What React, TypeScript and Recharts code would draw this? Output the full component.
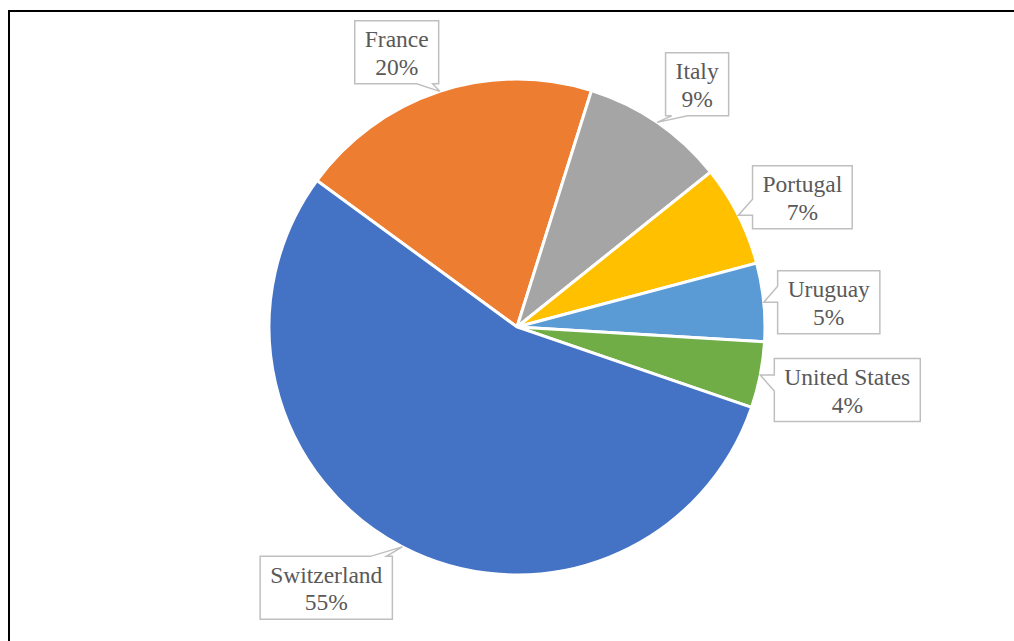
import React from 'react';
import { PieChart, Pie, Cell } from 'recharts';

const countries = ['France', 'Italy', 'Portugal', 'Uruguay', 'United States', 'Switzerland'];
const shares = [19.8, 9.4, 6.6, 5.1, 4.3, 54.8];
const colors = ['#ED7D31', '#A5A5A5', '#FFC000', '#5B9BD5', '#70AD47', '#4472C4'];

// where each callout box sits relative to the point on the slice edge
const calloutOffsets = [[-43, -39], [40, -38], [64, -18], [65, 0], [87, 15], [-76, 41]];

const chartData = countries.map((name, i) => ({ name, value: shares[i] }));

const RADIAN = Math.PI / 180;
const FONT_SIZE = 23.5;
const FAMILY = "'Liberation Serif', 'Times New Roman', 'DejaVu Serif', serif";
const FONT = `${FONT_SIZE}px ${FAMILY}`;

let ctx: CanvasRenderingContext2D | null = null;
const textWidth = (s: string) => {
  if (!ctx) ctx = document.createElement('canvas').getContext('2d');
  if (!ctx) return s.length * FONT_SIZE * 0.5;
  ctx.font = FONT;
  return ctx.measureText(s).width;
};

const clamp = (v: number, lo: number, hi: number) => Math.max(lo, Math.min(hi, v));

const renderCallout = (props: any) => {
  const { cx, cy, midAngle, outerRadius, percent, name, index } = props;
  const tx = cx + outerRadius * Math.cos(-midAngle * RADIAN);
  const ty = cy + outerRadius * Math.sin(-midAngle * RADIAN);
  const [ox, oy] = calloutOffsets[index];
  const pct = `${Math.round(percent * 100)}%`;
  const w = Math.max(textWidth(name), textWidth(pct)) + 20;
  const h = 63;
  const bx = tx + ox;
  const by = ty + oy;
  const x0 = bx - w / 2;
  const y0 = by - h / 2;
  const x1 = x0 + w;
  const y1 = y0 + h;

  // base of the pointer on the side facing the slice
  const base = (t: number, lo: number, hi: number, mid: number) => {
    const e = clamp(t, lo + 6, hi - 6);
    return t >= mid ? [Math.max(lo + 2, e - 16), e] : [e, Math.min(hi - 2, e + 16)];
  };

  let d = '';
  if (ty < y0) {
    const [a, b] = base(tx, x0, x1, bx);
    d = `M${x0},${y0} L${a},${y0} L${tx},${ty} L${b},${y0} L${x1},${y0} L${x1},${y1} L${x0},${y1} Z`;
  } else if (ty > y1) {
    const [a, b] = base(tx, x0, x1, bx);
    d = `M${x0},${y0} L${x1},${y0} L${x1},${y1} L${b},${y1} L${tx},${ty} L${a},${y1} L${x0},${y1} Z`;
  } else if (tx > x1) {
    const [a, b] = base(ty, y0, y1, by);
    d = `M${x0},${y0} L${x1},${y0} L${x1},${a} L${tx},${ty} L${x1},${b} L${x1},${y1} L${x0},${y1} Z`;
  } else {
    const [a, b] = base(ty, y0, y1, by);
    d = `M${x0},${y0} L${x1},${y0} L${x1},${y1} L${x0},${y1} L${x0},${b} L${tx},${ty} L${x0},${a} Z`;
  }

  const textStyle = { fontFamily: FAMILY, fontSize: FONT_SIZE, fill: '#595959' };

  return (
    <g key={`callout-${index}`}>
      <path d={d} fill="#fff" stroke="#BFBFBF" strokeWidth={1.5} />
      <text x={bx} y={y0 + 26.5} textAnchor="middle" style={textStyle}>
        {name}
      </text>
      <text x={bx} y={y0 + 54} textAnchor="middle" style={textStyle}>
        {pct}
      </text>
    </g>
  );
};

const App: React.FC = () => {
  return (
    <div
      style={{
        position: 'absolute',
        left: 8,
        top: 10,
        width: 1006,
        height: 631,
        boxSizing: 'border-box',
        borderLeft: '2px solid #000',
        borderTop: '2px solid #000',
        background: '#fff',
      }}
    >
      <PieChart width={1004} height={629} margin={{ top: 0, right: 0, bottom: 0, left: 0 }}>
        <Pie
          data={chartData}
          dataKey="value"
          nameKey="name"
          cx={507}
          cy={315}
          outerRadius={248}
          startAngle={143.8}
          endAngle={-216.2}
          stroke="#fff"
          strokeWidth={3}
          label={renderCallout}
          labelLine={false}
          isAnimationActive={false}
        >
          {chartData.map((entry, i) => (
            <Cell key={entry.name} fill={colors[i]} />
          ))}
        </Pie>
      </PieChart>
    </div>
  );
};

export default App;
